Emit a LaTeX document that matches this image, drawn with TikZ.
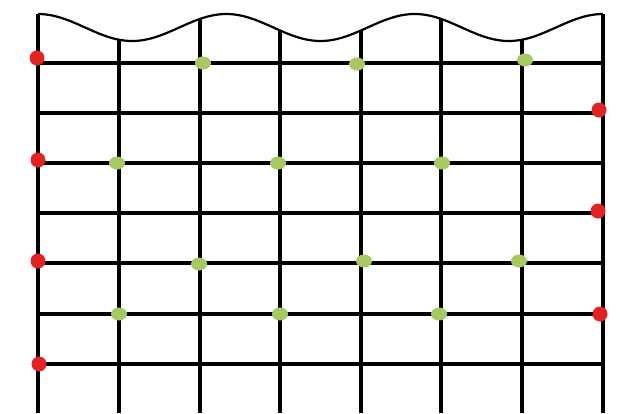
\documentclass[tikz,border=0pt]{standalone}
\usepackage{tikz}
\usetikzlibrary{shapes.geometric, positioning}
\definecolor{dotred}{HTML}{E32224}
\definecolor{dotgreen}{HTML}{A6C964}

\begin{document}
\begin{tikzpicture}[%
  x=1pt, y=-1pt,%
  gridline/.style={line width=4pt, draw=black},%
  waveline/.style={line width=2.2pt, draw=black},%
  reddot/.style={circle, fill=dotred, inner sep=0pt, minimum size=15pt},%
  greendot/.style={ellipse, fill=dotgreen, inner sep=0pt, minimum width=16pt, minimum height=13pt}%
]
  \useasboundingbox (0,0) rectangle (635,413);
  % wavy top edge
  \draw[waveline] plot[domain=38:603, samples=150] (\x, {27.5-13.5*cos((\x-38)*1.91155)});
  % grid
  \foreach \vx in {38,119,200,280,361,441,522,603}
    \draw[gridline] (\vx, {27.5-13.5*cos((\vx-38)*1.91155)}) -- (\vx, 413);
  \foreach \hy in {63,113,163,213,263,314,364}
    \draw[gridline] (38,\hy) -- (603,\hy);
  % dots
  \foreach \n/\px/\py in {ra/37/58, rb/599/110, rc/38/160, rd/598/211, re/38/261, rf/600/314, rg/39/364}
    \node[reddot] (\n) at (\px,\py) {};
  \foreach \n/\px/\py in {ga/203/63, gb/357/64, gc/525/60, gd/117/163, ge/278/163, gf/442/163,%
                          gg/199/264, gh/364/261, gi/519/261, gj/119/314, gk/280/314, gl/439/314}
    \node[greendot] (\n) at (\px,\py) {};
\end{tikzpicture}
\end{document}
